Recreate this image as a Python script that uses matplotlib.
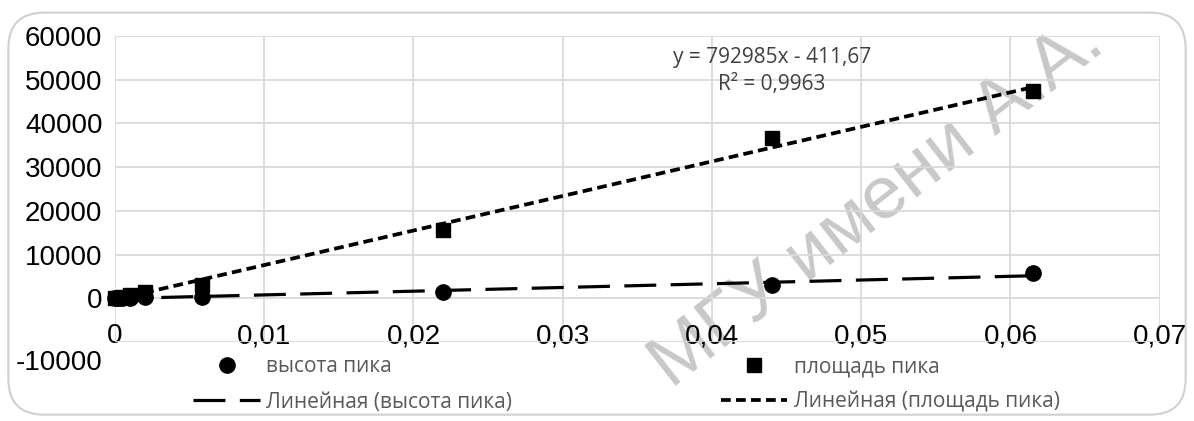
import matplotlib
matplotlib.use("Agg")
import matplotlib.pyplot as plt
from matplotlib.patches import FancyBboxPatch
from matplotlib.ticker import FuncFormatter
import numpy as np

# концентрация и отклики детектора
conc = [0, 0.0002, 0.0005, 0.001, 0.002, 0.0058, 0.022, 0.044, 0.0615]
height = [0, 20, 50, 100, 200, 400, 1400, 3100, 5700]
area = [0, 150, 400, 800, 1500, 3100, 15600, 36600, 47400]

x_ticks = [0, 0.01, 0.02, 0.03, 0.04, 0.05, 0.06, 0.07]
y_ticks = [-10000, 0, 10000, 20000, 30000, 40000, 50000, 60000]

eq_text = "y = 792985x - 411,67\nR² = 0,9963"

fig = plt.figure(figsize=(11.94, 4.21), dpi=100)
ax = fig.add_axes([0.0963, 0.1876, 0.875, 0.727])
ax.patch.set_visible(False)

# рамка диаграммы
frame = FancyBboxPatch((0.007, 0.015), 0.986, 0.955, boxstyle="round,pad=0,rounding_size=0.03",
                       transform=fig.transFigure, fc="white", ec="#d0d0d0", lw=1.5,
                       mutation_aspect=1194 / 421, zorder=-10)
fig.patches.append(frame)

ax.set_xlim(0, 0.07)
ax.set_ylim(-10000, 60000)
ax.set_xticks(x_ticks)
ax.set_yticks(y_ticks)
ax.grid(True, color="#d9d9d9", lw=1.3)
ax.set_axisbelow(True)
for s in ax.spines.values():
    s.set_visible(False)
ax.spines["bottom"].set_position(("data", 0))

fmt = lambda v, p: "0" if v == 0 else ("%g" % v).replace(".", ",")
ax.xaxis.set_major_formatter(FuncFormatter(fmt))
ax.yaxis.set_major_formatter(FuncFormatter(lambda v, p: "" if v < 0 else "%d" % v))
ax.tick_params(length=0, labelsize=20, labelcolor="black")
ax.tick_params(axis="x", pad=18)
ax.tick_params(axis="y", pad=9)
for lab in ax.get_xticklabels() + ax.get_yticklabels():
    lab.set_fontfamily("Liberation Sans")
ax.annotate("-10000", xy=(0, -10000), xycoords=("axes fraction", "data"),
            xytext=(-12, -21), textcoords="offset pixels", ha="right", va="center",
            fontsize=20, family="Liberation Sans", annotation_clip=False)

# линии тренда
xs = np.array([min(conc), max(conc)])
kh, bh = np.polyfit(conc, height, 1)
ka, ba = np.polyfit(conc, area, 1)
lh, = ax.plot(xs, kh * xs + bh, color="black", lw=2.3, dashes=(10, 4.5), zorder=3)
la, = ax.plot(xs, ka * xs + ba, color="black", lw=2.7, dashes=(2.6, 1.4), zorder=3)

ph, = ax.plot(conc, height, "o", color="black", ms=11, ls="none", clip_on=False, zorder=4)
pa, = ax.plot(conc, area, "s", color="black", ms=10, ls="none", clip_on=False, zorder=4)

ax.text(0.0440, 52000, eq_text, ha="center", va="center", fontsize=15,
        family="Open Sans", color="#404040", linespacing=1.4)

leg = fig.legend([ph, lh, pa, la],
                 ["высота пика", "Линейная (высота пика)", "площадь пика", "Линейная (площадь пика)"],
                 ncol=2, loc="upper left", bbox_to_anchor=(0.1532, 0.178), frameon=False,
                 prop={"family": "Open Sans", "size": 15}, handlelength=3.2, handletextpad=0.3,
                 columnspacing=10, labelspacing=0.68, borderpad=0)
for t in leg.get_texts():
    t.set_color("#595959")

# водяной знак
fig.text(0.735, 0.515, "МГУ имени А.А.", rotation=38, ha="center", va="center",
         fontsize=54, color="#c8c8c8", family="Liberation Sans", zorder=-1)

fig.savefig("out.png", dpi=100)
